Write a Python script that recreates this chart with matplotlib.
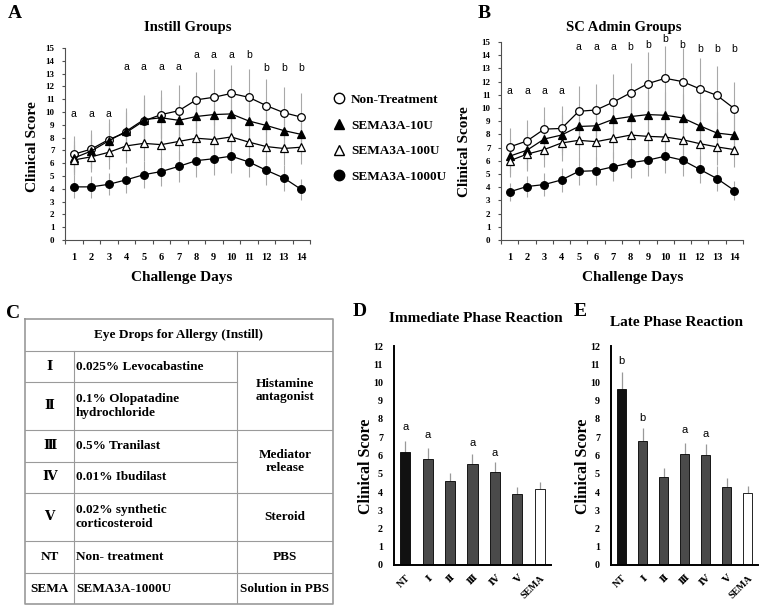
import matplotlib.pyplot as plt
from matplotlib.lines import Line2D
import numpy as np

plt.rcParams['font.family'] = ['Liberation Serif', 'DejaVu Serif', 'DejaVu Sans']
plt.rcParams['font.weight'] = 'bold'

W, H = 765, 609

# ---- data: panels A / B (mean clinical score per challenge day) ----
days = list(range(1, 15))
groups = ['Non-Treatment', 'SEMA3A-10U', 'SEMA3A-100U', 'SEMA3A-1000U']

instill_nt = [6.7, 7.1, 7.85, 8.4, 9.3, 9.8, 10.1, 10.95, 11.15, 11.45, 11.15, 10.5, 9.95, 9.6]
instill_10u = [6.4, 6.95, 7.75, 8.5, 9.4, 9.55, 9.35, 9.65, 9.8, 9.85, 9.3, 8.95, 8.55, 8.25]
instill_100u = [6.25, 6.5, 6.85, 7.35, 7.55, 7.45, 7.7, 7.95, 7.85, 8.05, 7.65, 7.3, 7.15, 7.25]
instill_1000u = [4.15, 4.15, 4.35, 4.7, 5.1, 5.35, 5.75, 6.2, 6.35, 6.55, 6.1, 5.45, 4.85, 3.95]
instill_nt_err = [1.4, 1.5, 1.6, 1.9, 2.0, 1.9, 2.0, 2.2, 2.2, 2.2, 2.2, 2.1, 2.0, 1.9]
instill_10u_err = [1.3, 1.3, 1.4, 1.5, 1.6, 1.6, 1.6, 1.7, 1.7, 1.7, 1.6, 1.6, 1.5, 1.5]
instill_100u_err = [1.2, 1.2, 1.3, 1.3, 1.4, 1.4, 1.4, 1.5, 1.5, 1.5, 1.4, 1.4, 1.3, 1.3]
instill_1000u_err = [0.9, 0.85, 0.85, 1.0, 1.05, 1.1, 1.2, 1.3, 1.3, 1.35, 1.2, 1.15, 1.0, 0.85]
instill_letters = ['a', 'a', 'a', 'a', 'a', 'a', 'a', 'a', 'a', 'a', 'b', 'b', 'b', 'b']
instill_letter_y = [9.85, 9.85, 9.85, 13.55, 13.55, 13.55, 13.55, 14.45, 14.45, 14.45, 14.45, 13.45, 13.45, 13.45]

sc_nt = [7.05, 7.5, 8.4, 8.45, 9.75, 9.85, 10.45, 11.15, 11.85, 12.25, 12.0, 11.45, 10.95, 9.95]
sc_10u = [6.35, 6.8, 7.65, 7.95, 8.6, 8.65, 9.15, 9.35, 9.5, 9.45, 9.25, 8.65, 8.1, 7.95]
sc_100u = [6.0, 6.5, 6.85, 7.35, 7.55, 7.45, 7.7, 7.95, 7.85, 7.8, 7.6, 7.3, 7.05, 6.85]
sc_1000u = [3.65, 4.05, 4.2, 4.55, 5.2, 5.25, 5.55, 5.85, 6.05, 6.35, 6.05, 5.35, 4.65, 3.75]
sc_nt_err = [1.45, 1.6, 1.7, 1.7, 1.95, 2.0, 2.1, 2.25, 2.4, 2.45, 2.55, 2.35, 2.25, 2.0]
sc_10u_err = [1.3, 1.4, 1.5, 1.5, 1.6, 1.6, 1.7, 1.7, 1.8, 1.8, 1.8, 1.7, 1.6, 1.5]
sc_100u_err = [1.2, 1.3, 1.3, 1.4, 1.4, 1.4, 1.5, 1.5, 1.5, 1.5, 1.5, 1.4, 1.4, 1.3]
sc_1000u_err = [0.7, 0.8, 0.85, 0.9, 1.05, 1.05, 1.1, 1.15, 1.2, 1.25, 1.2, 1.05, 0.95, 0.75]
sc_letters = ['a', 'a', 'a', 'a', 'a', 'a', 'a', 'b', 'b', 'b', 'b', 'b', 'b', 'b']
sc_letter_y = [11.25, 11.25, 11.25, 11.25, 14.6, 14.6, 14.6, 14.6, 14.75, 15.25, 14.8, 14.5, 14.5, 14.5]

# ---- data: panel C (table) ----
codes = ['\u2160', '\u2161', '\u2162', '\u2163', '\u2164', 'NT', 'SEMA']
drugs = ['0.025% Levocabastine', '0.1% Olopatadine\nhydrochloride', '0.5% Tranilast',
         '0.01% Ibudilast', '0.02% synthetic\ncorticosteroid', 'Non- treatment', 'SEMA3A-1000U']
classes = ['Histamine\nantagonist', 'Mediator\nrelease', 'Steroid', 'PBS', 'Solution in PBS']

# ---- data: panels D / E ----
bar_groups = ['NT', '\u2160', '\u2161', '\u2162', '\u2163', '\u2164', 'SEMA']
immediate = [6.2, 5.8, 4.6, 5.55, 5.1, 3.9, 4.15]
immediate_err = [0.62, 0.6, 0.46, 0.55, 0.52, 0.4, 0.4]
immediate_letters = ['a', 'a', '', 'a', 'a', '', '']
immediate_letter_y = [7.58, 7.1, 0, 6.68, 6.14, 0, 0]
late = [9.62, 6.82, 4.8, 6.1, 6.02, 4.3, 3.95]
late_err = [0.93, 0.66, 0.5, 0.6, 0.6, 0.45, 0.36]
late_letters = ['b', 'b', '', 'a', 'a', '', '']
late_letter_y = [11.18, 8.07, 0, 7.38, 7.18, 0, 0]
bar_colors = ['#111111', '#4a4a4a', '#4a4a4a', '#4a4a4a', '#4a4a4a', '#4a4a4a', 'white']

styles = [('o', 'white'), ('^', 'black'), ('^', 'white'), ('o', 'black')]


def rect(l, t, r, b):
    return [l / W, 1 - b / H, (r - l) / W, (b - t) / H]


def ftext(x, y, s, **kw):
    fig.text(x / W, 1 - y / H, s, ha=kw.pop('ha', 'center'), va=kw.pop('va', 'center'), **kw)


def line_panel(ax, series, errs, letters, letter_y):
    for v, e in zip(series, errs):
        ax.errorbar(days, v, yerr=e, fmt='none', ecolor='#a8a8a8', elinewidth=0.8, capsize=0, zorder=1)
    for v, (m, fc) in zip(series, styles):
        ax.plot(days, v, color='black', lw=0.9, marker=m, ms=5.5, mfc=fc, mec='black', mew=0.9, zorder=3)
    for d, t, y in zip(days, letters, letter_y):
        ax.text(d, y, t, ha='center', va='center', fontsize=7.5, family='Liberation Sans', fontweight='normal')
    ax.set_xlim(0.5, 14.5)
    ax.set_ylim(0, 15)
    ax.set_xticks(np.arange(0.5, 15, 1))
    ax.set_xticklabels([])
    ax.set_xticks(days, minor=True)
    ax.set_xticklabels(days, minor=True)
    ax.tick_params(axis='x', which='major', length=3, width=0.8, color='#505050')
    ax.tick_params(axis='x', which='minor', length=0, labelsize=7.5, pad=9)
    ax.set_yticks(range(16))
    ax.tick_params(axis='y', length=2.5, width=0.8, color='#505050', labelsize=6.5, pad=5)
    for s in ['top', 'right']:
        ax.spines[s].set_visible(False)
    for s in ['left', 'bottom']:
        ax.spines[s].set_color('#505050')
        ax.spines[s].set_linewidth(0.8)


def bar_panel(ax, vals, err, letters, letter_y):
    x = np.arange(len(bar_groups))
    ax.bar(x, vals, width=0.45, color=bar_colors, edgecolor='black', linewidth=0.6, zorder=2)
    ax.errorbar(x, vals, yerr=[np.zeros(len(x)), err], fmt='none', ecolor='#999999',
                elinewidth=0.9, capsize=0, zorder=1)
    for xi, t, y in zip(x, letters, letter_y):
        if t:
            ax.text(xi, y, t, ha='center', va='center', fontsize=8, family='Liberation Sans', fontweight='normal')
    ax.set_xlim(-0.5, 6.5)
    ax.set_ylim(0, 12)
    ax.set_yticks(range(13))
    ax.set_xticks(x)
    ax.set_xticklabels(bar_groups, rotation=45, ha='right', va='top', rotation_mode='anchor')
    ax.tick_params(axis='both', length=0, labelsize=7.2)
    ax.tick_params(axis='y', pad=8)
    ax.tick_params(axis='x', pad=6)
    for s in ['top', 'right']:
        ax.spines[s].set_visible(False)
    for s in ['left', 'bottom']:
        ax.spines[s].set_linewidth(1.4)


fig = plt.figure(figsize=(W / 100, H / 100), dpi=100)

# A
axA = fig.add_axes(rect(65, 48, 310, 240))
line_panel(axA, [instill_nt, instill_10u, instill_100u, instill_1000u],
           [instill_nt_err, instill_10u_err, instill_100u_err, instill_1000u_err],
           instill_letters, instill_letter_y)
ftext(15, 13, 'A', fontsize=14)
ftext(188, 27, 'Instill Groups', fontsize=10.5)
ftext(182, 278, 'Challenge Days', fontsize=11)
ftext(33, 147, 'Clinical Score', fontsize=11, rotation=90)

handles = [Line2D([], [], ls='none', marker=m, ms=7.5, mfc=fc, mec='black', mew=1) for m, fc in styles]
fig.legend(handles, groups, loc='upper left', bbox_to_anchor=(326 / W, 1 - 87 / H), frameon=False,
           fontsize=9.5, labelspacing=1.02, handletextpad=0.4, handlelength=1.0, borderpad=0)

# B
axB = fig.add_axes(rect(501, 42, 743, 240))
line_panel(axB, [sc_nt, sc_10u, sc_100u, sc_1000u],
           [sc_nt_err, sc_10u_err, sc_100u_err, sc_1000u_err],
           sc_letters, sc_letter_y)
ftext(484, 14, 'B', fontsize=14)
ftext(624, 27, 'SC Admin Groups', fontsize=10.5)
ftext(633, 278, 'Challenge Days', fontsize=11)
ftext(465, 152, 'Clinical Score', fontsize=11, rotation=90)

# C: table
axC = fig.add_axes(rect(25, 319, 333, 604))
axC.set_xlim(25, 333)
axC.set_ylim(604, 319)
axC.axis('off')
tc = '#9a9a9a'
axC.plot([25, 333, 333, 25, 25], [319, 319, 604, 604, 319], color=tc, lw=1.2, clip_on=False)
axC.plot([25, 333], [351, 351], color=tc, lw=0.8)
for y in [382, 462]:
    axC.plot([25, 237], [y, y], color=tc, lw=0.8)
for y in [430, 493, 541, 573]:
    axC.plot([25, 333], [y, y], color=tc, lw=0.8)
for x in [74, 237]:
    axC.plot([x, x], [351, 604], color=tc, lw=0.8)
row_y = [366.5, 406, 446, 477.5, 517, 557, 588.5]
class_y = [390.5, 461.5, 517, 557, 588.5]
axC.text(178, 335, 'Eye Drops for Allergy (Instill)', ha='center', va='center', fontsize=9.5)
for c, d, y in zip(codes, drugs, row_y):
    axC.text(49.5, y, c, ha='center', va='center', fontsize=9.5)
    axC.text(76, y, d, ha='left', va='center', fontsize=9.5, linespacing=1.2)
for c, y in zip(classes, class_y):
    axC.text(285, y, c, ha='center', va='center', fontsize=9.5, linespacing=1.2)
ftext(13, 313, 'C', fontsize=14)

# D
axD = fig.add_axes(rect(394, 346, 551, 565))
bar_panel(axD, immediate, immediate_err, immediate_letters, immediate_letter_y)
ftext(360, 312, 'D', fontsize=14)
ftext(476, 319, 'Immediate Phase Reaction', fontsize=11)
ftext(366, 466, 'Clinical Score', fontsize=11.5, rotation=90)

# E
axE = fig.add_axes(rect(611, 346, 758, 565))
bar_panel(axE, late, late_err, late_letters, late_letter_y)
ftext(580, 312, 'E', fontsize=14)
ftext(676, 322, 'Late Phase Reaction', fontsize=11)
ftext(583, 466, 'Clinical Score', fontsize=11.5, rotation=90)

fig.savefig('out.png', dpi=100)
